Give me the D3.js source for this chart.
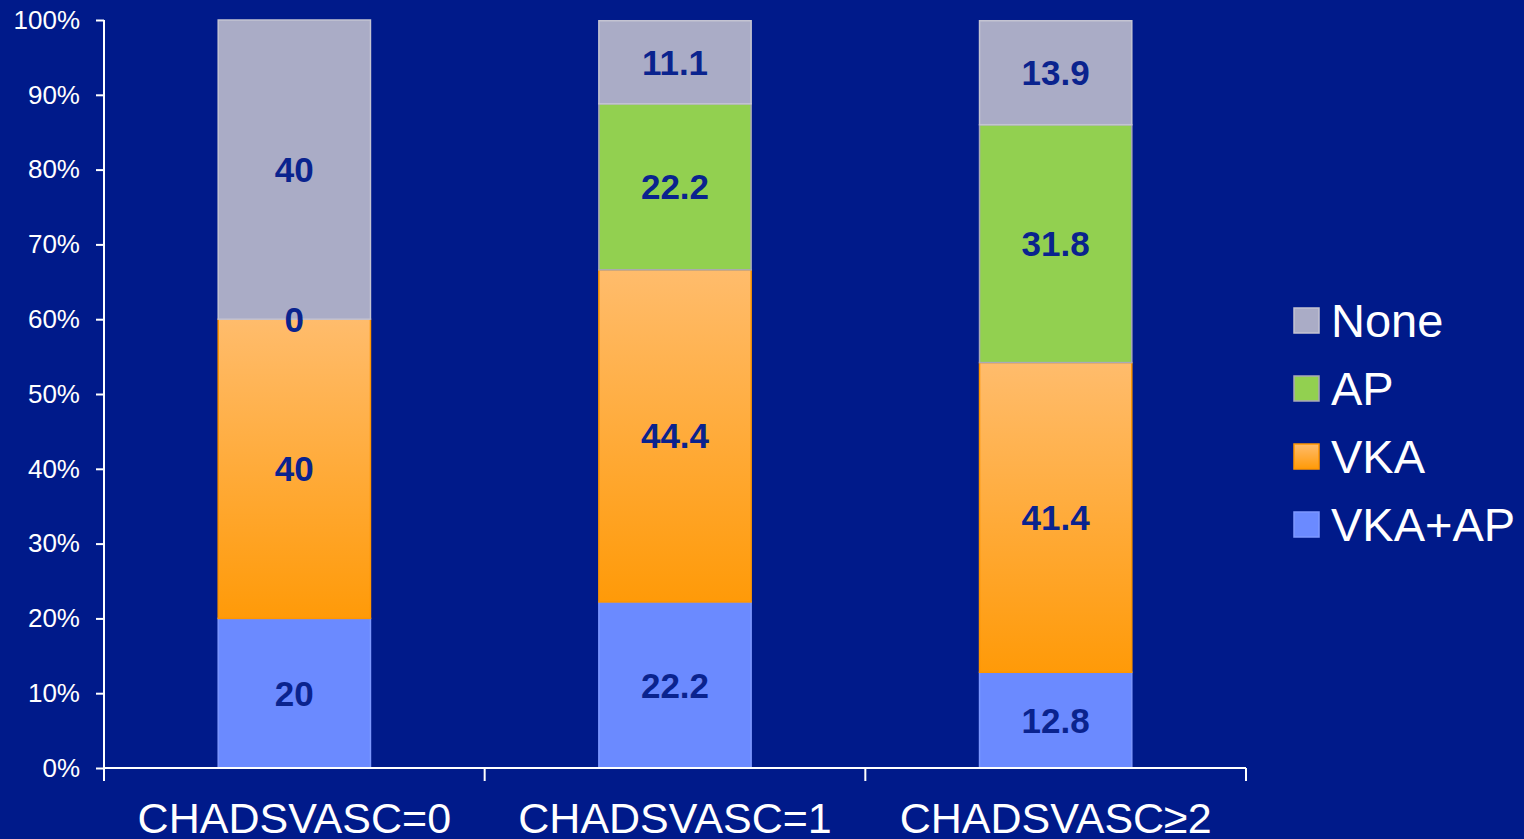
<!DOCTYPE html>
<html><head><meta charset="utf-8">
<script src="https://cdn.jsdelivr.net/npm/d3@7"></script>
<style>
html,body{margin:0;padding:0;background:#001a8a;}
svg{display:block;font-family:Arial,"Liberation Sans",sans-serif;}
</style></head>
<body>
<script>
const categories = ["CHADSVASC=0", "CHADSVASC=1", "CHADSVASC\u22652"];
const seriesNames = ["VKA+AP", "VKA", "AP", "None"];
const vkaAp = [20, 22.2, 12.8];
const vka = [40, 44.4, 41.4];
const ap = [0, 22.2, 31.8];
const none = [40, 11.1, 13.9];
const yTicks = [0,10,20,30,40,50,60,70,80,90,100];
const legendOrder = ["None", "AP", "VKA", "VKA+AP"];

const W = 1524, H = 839;
const bg = "#001a8a";
const labelColor = "#0a238e";
const fills = {"VKA+AP":"#6b8aff", "VKA":"url(#vkaGrad)", "AP":"#92d050", "None":"#aaacc6"};
const strokes = {"VKA+AP":"#7d98ff", "VKA":"#ff9600", "AP":"#a9a9b8", "None":"#c4c4d2"};

const svg = d3.select("body").append("svg").attr("width", W).attr("height", H);
svg.append("rect").attr("width", W).attr("height", H).attr("fill", bg);

const defs = svg.append("defs");
const g = defs.append("linearGradient").attr("id","vkaGrad").attr("x1",0).attr("y1",0).attr("x2",0).attr("y2",1);
g.append("stop").attr("offset","0%").attr("stop-color","#ffbc6c");
g.append("stop").attr("offset","100%").attr("stop-color","#ff9a08");

const x = d3.scaleBand().domain(categories).range([104, 1246]).padding(0);
const y = d3.scaleLinear().domain([0, 100]).range([768, 20]);
const bw = x.bandwidth() * 0.4;

const table = categories.map((c, i) => ({cat: c, "VKA+AP": vkaAp[i], "VKA": vka[i], "AP": ap[i], "None": none[i]}));
const stacked = d3.stack().keys(seriesNames)(table);

const layers = svg.append("g");
stacked.forEach(layer => {
  const key = layer.key;
  layer.forEach(d => {
    const x0 = x(d.data.cat) + (x.bandwidth() - bw) / 2;
    if (d[1] - d[0] > 0) {
      layers.append("rect")
        .attr("x", x0).attr("width", bw)
        .attr("y", y(d[1])).attr("height", y(d[0]) - y(d[1]))
        .attr("fill", fills[key]).attr("stroke", strokes[key]).attr("stroke-width", 1.5);
    }
  });
});
stacked.forEach(layer => {
  layer.forEach(d => {
    const cx = x(d.data.cat) + x.bandwidth() / 2;
    const v = d.data[layer.key];
    layers.append("text")
      .attr("x", cx).attr("y", y((d[0] + d[1]) / 2))
      .attr("dy", "0.36em")
      .attr("text-anchor", "middle")
      .attr("font-weight", "bold").attr("font-size", 35)
      .attr("fill", labelColor)
      .text(v);
  });
});

// Y axis
const yAxis = svg.append("g").attr("transform", "translate(104,0)")
  .call(d3.axisLeft(y).tickValues(yTicks).tickFormat(d => d + "%").tickSize(8).tickPadding(16));
yAxis.select(".domain").remove();
yAxis.selectAll("line").attr("stroke", "#fff").attr("stroke-width", 2);
yAxis.selectAll("text").attr("fill", "#fff").attr("font-size", 26).attr("font-family", "Arial,'Liberation Sans',sans-serif");
svg.append("line").attr("x1",104).attr("x2",104).attr("y1",y(100)).attr("y2",781).attr("stroke","#fff").attr("stroke-width",2);

// X axis
const xAxis = svg.append("g").attr("transform", "translate(0,768)")
  .call(d3.axisBottom(x).tickSize(0));
xAxis.select(".domain").attr("stroke", "#fff").attr("stroke-width", 2).attr("d", "M104,0H1246");
xAxis.selectAll("text").attr("fill", "#fff").attr("font-size", 43)
  .attr("font-family", "Arial,'Liberation Sans',sans-serif")
  .attr("dy", null).attr("y", 65);
const bounds = categories.map(c => x(c)).concat([x(categories[categories.length-1]) + x.bandwidth()]);
svg.append("g").selectAll("line").data(bounds).join("line")
  .attr("x1", d => d).attr("x2", d => d).attr("y1", 768).attr("y2", 781)
  .attr("stroke", "#fff").attr("stroke-width", 2);

// Legend
const leg = svg.append("g");
legendOrder.forEach((name, i) => {
  const base = 337 + i * 68;
  leg.append("rect").attr("x", 1294).attr("y", base - 29).attr("width", 25).attr("height", 25)
    .attr("fill", fills[name]).attr("stroke", name === "AP" ? "#a9a9b8" : strokes[name]).attr("stroke-width", 1.5);
  leg.append("text").attr("x", 1331).attr("y", base).attr("fill", "#fff").attr("font-size", 47).text(name);
});
</script>
</body></html>
